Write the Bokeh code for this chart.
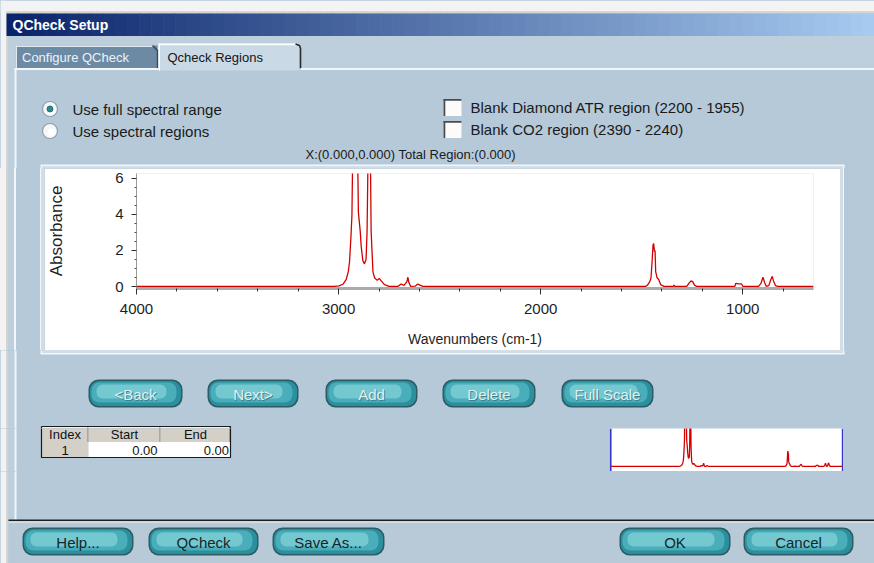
from bokeh.plotting import figure
from bokeh.layouts import row, column
from bokeh.models import Range1d, FixedTicker, Span, Div
from bokeh.core.properties import value
from bokeh.embed import file_html
from bokeh.resources import INLINE

# ---------------- data ----------------
wavenumber = [4000, 3022, 2997, 2977, 2962, 2952, 2946, 2939, 2934, 2931, 2905, 2902, 2893, 2888,
              2880, 2872, 2864, 2859, 2855, 2842, 2839, 2830, 2822, 2809, 2799, 2789, 2773, 2750,
              2705, 2691, 2676, 2662, 2657, 2652, 2644, 2621, 2608, 2595, 2583, 1480, 1470, 1460,
              1454, 1449, 1444, 1441, 1437, 1434, 1431, 1424, 1416, 1406, 1390, 1343, 1340, 1337,
              1277, 1267, 1256, 1248, 1238, 1228, 1039, 1035, 1020, 1006, 999, 922, 910, 900, 892,
              884, 871, 862, 854, 848, 838, 828, 650]
absorbance = [0.02, 0.02, 0.05, 0.15, 0.40, 0.83, 1.35, 2.73, 3.93, 6.6, 6.6, 4.1, 3.07, 2.21,
              1.44, 1.26, 1.52, 3.07, 6.6, 6.6, 3.07, 0.83, 0.49, 0.35, 0.46, 0.32, 0.11, 0.02,
              0.02, 0.15, 0.07, 0.28, 0.52, 0.23, 0.02, 0.03, 0.15, 0.07, 0.02, 0.02, 0.11, 0.28,
              0.49, 1.35, 2.30, 2.38, 1.95, 2.0, 0.83, 0.49, 0.40, 0.11, 0.02, 0.02, 0.10, 0.02,
              0.02, 0.18, 0.32, 0.28, 0.07, 0.02, 0.02, 0.18, 0.16, 0.15, 0.02, 0.02, 0.18, 0.52,
              0.23, 0.02, 0.06, 0.37, 0.57, 0.32, 0.06, 0.02, 0.02]
x_major_ticks = [4000, 3000, 2000, 1000]
x_minor_ticks = [3800, 3600, 3400, 3200, 2800, 2600, 2400, 2200, 1800, 1600, 1400, 1200, 800]
y_major_ticks = [0, 2, 4, 6]
y_minor_ticks = [0.5, 1, 1.5, 2.5, 3, 3.5, 4.5, 5, 5.5]
region_bounds = [4000, 650]
x_label = "Wavenumbers (cm-1)"
y_label = "Absorbance"
window_title = "QCheck Setup"
tab_labels = ["Configure QCheck", "Qcheck Regions"]
radio_labels = ["Use full spectral range", "Use spectral regions"]
check_labels = ["Blank Diamond ATR region (2200 - 1955)", "Blank CO2 region  (2390 - 2240)"]
status_text = "X:(0.000,0.000) Total Region:(0.000)"
nav_buttons = ["<Back", "Next>", "Add", "Delete", "Full Scale"]
dialog_buttons = ["Help...", "QCheck", "Save As...", "OK", "Cancel"]
table_header = ["Index", "Start", "End"]
table_row = ["1", "0.00", "0.00"]

# ---------------- styling ----------------
FONT = "Liberation Sans"
PANEL = "#b5c9d9"
STRIP = "#bdcfdc"
RED = "#d40000"
EDGE_WHITE = "#f3f3f3"
EDGE_GREY = "#d6d3cc"
PANE_LINE = "#f2f6f9"
BOX_OUT = "#f4f7fa"
BOX_IN = "#d3dde6"
W, H = 874, 563

ELEMS = []


def quad(x0, x1, y0, y1, fill, line=None, lw=1.0, radius=0, alpha=1.0):
    ELEMS.append(("quad", (x0, x1, y0, y1),
                  dict(left=[x0], right=[x1], top=[y0], bottom=[y1], fill_color=fill,
                       fill_alpha=alpha, line_color=line, line_width=lw, border_radius=radius)))


def seg(xs, ys, color, lw=1.0):
    ELEMS.append(("line", (min(xs), max(xs), min(ys), max(ys)),
                  dict(x=list(xs), y=list(ys), line_color=color, line_width=lw)))


def dot(x, y, size, fill, line=None, lw=1.0):
    r = size / 2
    ELEMS.append(("dot", (x - r, x + r, y - r, y + r),
                  dict(x=[x], y=[y], size=size, fill_color=fill, line_color=line, line_width=lw)))


def label(x, y, txt, size=15, color="#1a1a1a", align="left", bold=False):
    ELEMS.append(("text", (x, x, y, y),
                  dict(x=[x], y=[y], text=[txt], text_font=value(FONT), text_font_size=f"{size}px",
                       text_color=color, text_align=align, text_baseline="middle",
                       text_font_style="bold" if bold else "normal")))


def button(x0, x1, y0, y1, txt, enabled):
    quad(x0, x1, y0, y1, "#2c5c64", radius=10)
    quad(x0 + 1.5, x1 - 1.5, y0 + 1.5, y1 - 1.5, "#2b8f9e", radius=9)
    quad(x0 + 3, x1 - 6, y0 + 3, y1 - 5, "#49adba", radius=8)
    quad(x0 + 8, x1 - 16, y0 + 5, y1 - 9, "#74c8d0", radius=6)
    if enabled:
        label((x0 + x1) / 2, (y0 + y1) / 2 + 0.5, txt, 15, "#14262b", "center")
    else:
        label((x0 + x1) / 2 + 1, (y0 + y1) / 2 + 1.5, txt, 15, "#3f7f88", "center")
        label((x0 + x1) / 2, (y0 + y1) / 2 + 0.5, txt, 15, "#e0f0f2", "center")


# screen margin and window edge
quad(0, W, 0, 11, EDGE_WHITE)
quad(0, 6, 0, H, EDGE_WHITE)
quad(6, W, 11, 13, EDGE_GREY)
quad(6, 8, 11, H, EDGE_GREY)
# title bar gradient
c0, c1 = (10, 36, 106), (166, 202, 240)
N = 72
w = (W - 6) / N
for i in range(N):
    t = i / (N - 1)
    col = "#%02x%02x%02x" % tuple(int(round(a + (b - a) * t)) for a, b in zip(c0, c1))
    quad(6 + i * w, 6 + (i + 1) * w + 0.6, 13, 35.5, col)
label(12, 24.5, window_title, 14, "#ffffff", bold=True)
# tab strip
quad(8, W, 35.5, 68, STRIP)
quad(8, 14, 35.5, 520, STRIP)
# unselected tab
quad(15, 157, 45, 68, "#6c8aa4")
quad(15, 153, 45, 46.5, "#e2eaf0")
quad(15, 16.5, 45, 68, "#e2eaf0")
seg([152, 157, 157], [45, 50, 68], "#38485a", 1.5)
label(21.5, 56.5, tab_labels[0], 13, "#eef3f7")
# selected tab
quad(158, 299, 43, 70, "#c9d9e5")
quad(158, 296, 43, 44.8, "#ffffff")
quad(158, 159.5, 43, 70, "#ffffff")
seg([295, 299, 300, 300], [43.5, 45, 48, 68], "#2a2a2a", 1.6)
label(167, 56.5, tab_labels[1], 13, "#151515")
# pane borders
quad(14, 158, 67.5, 69.5, PANE_LINE)
quad(300, W, 67.5, 69.5, PANE_LINE)
quad(14, 16, 67.5, 519.5, PANE_LINE)
# separator and bottom strip
quad(8, W, 519, 520.8, "#1e1e1e")
quad(8, W, 520.8, 522.3, "#e4ebf0")
quad(8, W, 522.3, H, "#b8cad8")

# radio buttons
for yy, sel, txt in [(108.5, True, radio_labels[0]), (130.5, False, radio_labels[1])]:
    dot(49.5, yy, 15, "#f4f6f7", "#8fa0ac", 1.2)
    dot(51, yy + 1.5, 8, "#ffffff")
    if sel:
        dot(49.5, yy, 6, "#2c8a8c", "#1d5f62", 0.8)
    label(72, yy, txt, 15)
# check boxes
for yy, txt in [(107, check_labels[0]), (129, check_labels[1])]:
    quad(443, 461, yy - 8.5, yy + 8.5, "#fbfbfb")
    quad(443, 461, yy - 8.5, yy - 6.8, "#4a4a4a")
    quad(443, 444.8, yy - 8.5, yy + 8.5, "#4a4a4a")
    label(470, yy, txt, 15)
label(305, 154, status_text, 13, "#1a1a1a")

# frame around the plot box
quad(40, 844, 164, 354, BOX_OUT)
quad(41.5, 842.5, 165.5, 352.5, BOX_IN)

# navigation buttons
for (x0, x1), txt in zip([(88, 182), (207, 298), (325, 417), (442, 535), (561, 653)], nav_buttons):
    button(x0, x1, 379, 407, txt, False)
# dialog buttons
for (x0, x1), txt in zip([(22, 133), (148, 258), (272, 384), (619, 730), (743, 853)], dialog_buttons):
    button(x0, x1, 527, 555, txt, True)

# table
tcols = [(41, 88), (88, 160), (160, 230)]
for (x0, x1), h in zip(tcols, table_header):
    quad(x0, x1, 426, 441.5, "#d4d0c8")
    quad(x0, x1 - 1, 426, 427.2, "#ffffff")
    quad(x1 - 1, x1, 426, 441.5, "#808080")
    label((x0 + x1) / 2, 434, h, 13, "#111111", "center")
quad(41, 88, 441.5, 457, "#d4d0c8")
quad(88, 230, 441.5, 457, "#ffffff")
label(64.5, 449.5, table_row[0], 13, "#111111", "center")
label(157, 449.5, table_row[1], 13, "#111111", "right")
label(228.5, 449.5, table_row[2], 13, "#111111", "right")
seg([41, 230, 230, 41, 41], [426, 426, 457, 457, 426], "#1a1a1a", 1.2)


def chrome(x0, x1, y0, y1):
    f = figure(width=x1 - x0, height=y1 - y0, x_range=Range1d(x0, x1), y_range=Range1d(y1, y0),
               output_backend="svg", toolbar_location=None, min_border=0,
               x_axis_location=None, y_axis_location=None,
               background_fill_color=PANEL, border_fill_color=PANEL, outline_line_color=None)
    f.grid.visible = False
    for kind, (a, b, c, d), kw in ELEMS:
        if kind == "text":
            if not (x0 <= a < x1 and y0 <= c < y1):
                continue
            f.text(**kw)
            continue
        if b <= x0 or a >= x1 or d <= y0 or c >= y1:
            continue
        if kind == "quad":
            f.quad(**kw)
        elif kind == "line":
            f.line(**kw)
        elif kind == "dot":
            f.scatter(marker="circle", **kw)
    return f


def stripes(width, height, bands):
    # vertical colour bands (side strips next to the plot box), as a plain CSS background
    stops, pos = [], 0
    for col, wd in bands:
        stops.append(f"{col} {pos}px {pos + wd}px")
        pos += wd
    return Div(width=width, height=height, margin=0,
               styles={"background": "linear-gradient(to right, " + ", ".join(stops) + ")"})


# ---------------- main spectrum ----------------
spec = figure(width=796, height=182, x_range=Range1d(4000, 650), y_range=Range1d(-0.1, 6.25),
              output_backend="svg", toolbar_location=None,
              min_border_left=91, min_border_right=27, min_border_top=5, min_border_bottom=62,
              background_fill_color="white", border_fill_color="white", outline_line_color=None)
spec.grid.visible = False
spec.line(wavenumber, absorbance, line_color=RED, line_width=1.3)

xa = spec.xaxis[0]
xa.ticker = FixedTicker(ticks=x_major_ticks, minor_ticks=x_minor_ticks)
xa.axis_label = x_label
xa.axis_line_color = "#aaaaaa"
xa.axis_line_width = 3
xa.major_tick_line_color = "#303030"
xa.major_tick_out = 6
xa.major_tick_in = 0
xa.minor_tick_line_color = "#303030"
xa.minor_tick_out = 3
xa.minor_tick_in = 0
xa.major_label_standoff = 9
xa.major_label_text_font = FONT
xa.major_label_text_font_size = "15px"
xa.major_label_text_color = "#1e1e1e"
xa.axis_label_text_font = FONT
xa.axis_label_text_font_size = "14px"
xa.axis_label_text_font_style = "normal"
xa.axis_label_text_color = "#1e1e1e"
xa.axis_label_standoff = 14

ya = spec.yaxis[0]
ya.ticker = FixedTicker(ticks=y_major_ticks, minor_ticks=y_minor_ticks)
ya.axis_label = y_label
ya.axis_line_color = "#9a9a9a"
ya.major_tick_line_color = "#303030"
ya.major_tick_out = 5
ya.major_tick_in = 0
ya.minor_tick_line_color = "#505050"
ya.minor_tick_out = 2
ya.minor_tick_in = 0
ya.major_label_standoff = 8
ya.major_label_text_font = FONT
ya.major_label_text_font_size = "15px"
ya.major_label_text_color = "#1e1e1e"
ya.axis_label_text_font = FONT
ya.axis_label_text_font_size = "17px"
ya.axis_label_text_font_style = "normal"
ya.axis_label_text_color = "#1e1e1e"
ya.axis_label_standoff = 46

# ---------------- overview strip ----------------
mini = figure(width=234, height=43, x_range=Range1d(4015, 640), y_range=Range1d(-0.78, 5.9),
              output_backend="svg", toolbar_location=None, min_border=0,
              x_axis_location=None, y_axis_location=None,
              background_fill_color="white", border_fill_color="white", outline_line_color=None)
mini.grid.visible = False
mini.line(wavenumber, absorbance, line_color=RED, line_width=1.3)
for b in region_bounds:
    mini.add_layout(Span(location=b, dimension="height", line_color="#3434c8", line_width=2))

# ---------------- assemble ----------------
top = chrome(0, W, 0, 168)
b_left = stripes(44, 182, [(EDGE_WHITE, 6), (EDGE_GREY, 2), (STRIP, 6), (PANE_LINE, 2),
                           (PANEL, 24), (BOX_OUT, 1.5), (BOX_IN, 2.5)])
b_right = stripes(34, 182, [(BOX_IN, 2.5), (BOX_OUT, 1.5), (PANEL, 30)])
c1 = chrome(0, W, 350, 428)
c2_left = chrome(0, 609, 428, 471)
c2_right = chrome(843, W, 428, 471)
c3 = chrome(0, W, 471, H)

bg = {"background-color": PANEL}
layout = column(top,
                row(b_left, spec, b_right, styles=bg),
                c1,
                row(c2_left, mini, c2_right, styles=bg),
                c3, styles=bg)

open("out.html", "w").write(file_html(layout, INLINE))
